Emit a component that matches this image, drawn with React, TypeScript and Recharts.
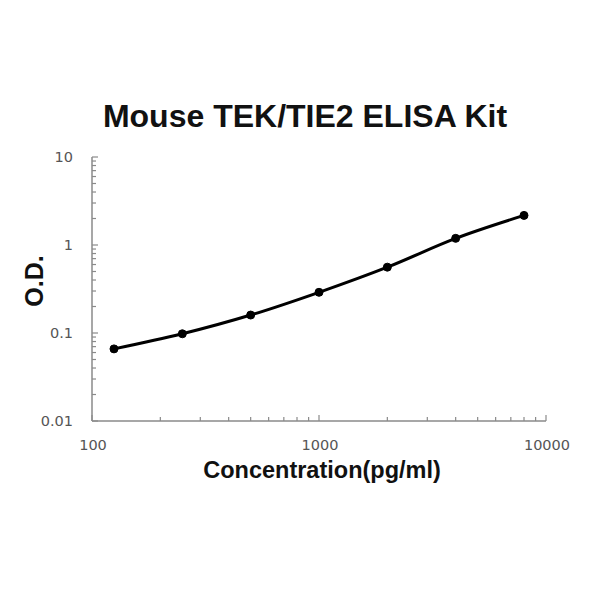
import React from 'react'
import { LineChart, Line, XAxis, YAxis } from 'recharts'

// standard curve readings
const concentration = [125, 250, 500, 1000, 2000, 4000, 8000]
const od = [0.066, 0.098, 0.16, 0.29, 0.56, 1.19, 2.17]

const xTicks = [
    100, 200, 300, 400, 500, 600, 700, 800, 900,
    1000, 2000, 3000, 4000, 5000, 6000, 7000, 8000, 9000, 10000,
]
const xLabels = [100, 1000, 10000]
const yTicks = [
    0.01, 0.02, 0.03, 0.04, 0.05, 0.06, 0.07, 0.08, 0.09,
    0.1, 0.2, 0.3, 0.4, 0.5, 0.6, 0.7, 0.8, 0.9,
    1, 2, 3, 4, 5, 6, 7, 8, 9, 10,
]
const yLabels = [0.01, 0.1, 1, 10]

const data = concentration.map((c, i) => ({ conc: c, od: od[i] }))

const tickFont = '"DejaVu Sans", sans-serif'
const axisColor = '#8a8a8a'

const XTick = (props: any) => {
    const { x, y, payload } = props
    const v = payload.value
    const major = xLabels.includes(v)
    return (
        <g>
            <line x1={x} y1={y} x2={x} y2={y - (major ? 6 : 4)} stroke={axisColor} strokeWidth={1.2} />
            {major && (
                <text x={x + 1} y={y + 29} textAnchor="middle" fontSize={14.5} fill="#555" fontFamily={tickFont}>
                    {v}
                </text>
            )}
        </g>
    )
}

const YTick = (props: any) => {
    const { x, y, payload } = props
    const v = payload.value
    const major = yLabels.some((l) => Math.abs(l - v) < 1e-9)
    return (
        <g>
            <line x1={x} y1={y} x2={x + (major ? 6 : 4)} y2={y} stroke={axisColor} strokeWidth={1.2} />
            {major && (
                <text x={x - 19} y={y + 5} textAnchor="end" fontSize={14.5} fill="#555" fontFamily={tickFont}>
                    {v}
                </text>
            )}
        </g>
    )
}

export default function App() {
    return (
        <div style={{ position: 'absolute', left: 0, top: 0, width: 600, height: 600, background: '#fff', fontFamily: '"Liberation Sans", Arial, sans-serif' }}>
            <div style={{ position: 'absolute', left: 0, width: 610, top: 97, textAlign: 'center', fontSize: 32, fontWeight: 'bold', color: '#111', lineHeight: '38px' }}>
                Mouse TEK/TIE2 ELISA Kit
            </div>
            <div style={{ position: 'absolute', left: 34, top: 281, transform: 'translate(-50%, -50%) rotate(-90deg)', fontSize: 25, fontWeight: 'bold', color: '#111', whiteSpace: 'nowrap', lineHeight: '28px' }}>
                O.D.
            </div>
            <div style={{ position: 'absolute', left: 0, width: 644, top: 456, textAlign: 'center', fontSize: 23.5, fontWeight: 'bold', color: '#111', lineHeight: '28px' }}>
                Concentration(pg/ml)
            </div>
            <LineChart width={600} height={600} data={data} margin={{ top: 157, right: 54, bottom: 149, left: 52 }}>
                <XAxis
                    dataKey="conc"
                    type="number"
                    scale="log"
                    domain={[100, 10000]}
                    ticks={xTicks}
                    interval={0}
                    tick={<XTick />}
                    tickSize={0}
                    tickMargin={0}
                    tickLine={false}
                    height={30}
                    axisLine={{ stroke: axisColor, strokeWidth: 1.5 }}
                    allowDataOverflow
                />
                <YAxis
                    dataKey="od"
                    type="number"
                    scale="log"
                    domain={[0.01, 10]}
                    ticks={yTicks}
                    interval={0}
                    tick={<YTick />}
                    tickSize={0}
                    tickMargin={0}
                    tickLine={false}
                    width={40}
                    axisLine={{ stroke: axisColor, strokeWidth: 1.5 }}
                    allowDataOverflow
                />
                <Line
                    type="monotone"
                    dataKey="od"
                    stroke="#000"
                    strokeWidth={3}
                    dot={{ r: 4, fill: '#000', stroke: '#000', strokeWidth: 1 }}
                    isAnimationActive={false}
                />
            </LineChart>
        </div>
    )
}
